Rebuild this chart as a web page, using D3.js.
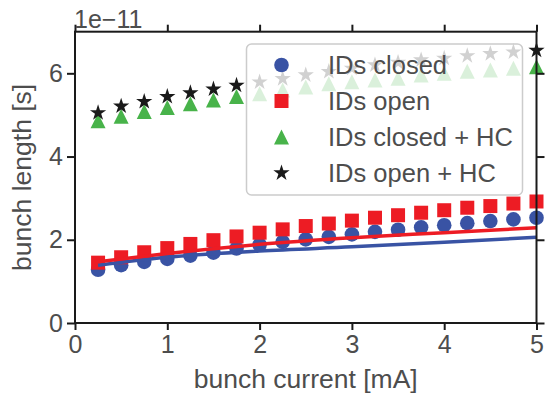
<!DOCTYPE html>
<html><head><meta charset="utf-8">
<script src="https://cdn.jsdelivr.net/npm/d3@7"></script>
<style>
html,body{margin:0;padding:0;background:#fff;}
text{font-family:"Liberation Sans",Arial,Helvetica,sans-serif;}
</style></head>
<body><svg id="chart" width="545" height="394"></svg>
<script>
// ---- data (values in units of 1e-11 s) ----
const current = [0.25,0.5,0.75,1.0,1.25,1.5,1.75,2.0,2.25,2.5,2.75,3.0,3.25,3.5,3.75,4.0,4.25,4.5,4.75,5.0];
const idsClosed = [1.28,1.39,1.47,1.54,1.62,1.69,1.79,1.88,1.95,2.01,2.07,2.13,2.19,2.24,2.30,2.35,2.40,2.45,2.49,2.53];
const idsOpen = [1.45,1.58,1.70,1.80,1.90,1.99,2.08,2.17,2.25,2.33,2.39,2.46,2.53,2.59,2.65,2.71,2.77,2.81,2.87,2.92];
const idsClosedHC = [4.86,4.97,5.08,5.18,5.27,5.36,5.44,5.51,5.60,5.67,5.75,5.80,5.84,5.88,5.96,6.00,6.05,6.08,6.12,6.16];
const idsOpenHC = [5.05,5.21,5.32,5.44,5.53,5.62,5.71,5.79,5.87,5.96,6.04,6.12,6.20,6.26,6.32,6.36,6.42,6.47,6.51,6.55];
const fitX = [0.25,1,2,3,4,5];
const fitClosed = [1.39,1.58,1.73,1.83,1.94,2.06];
const fitOpen = [1.47,1.67,1.89,2.05,2.17,2.29];
const xTicks = [0,1,2,3,4,5];
const yTicks = [0,2,4,6];
const legendLabels = ["IDs closed","IDs open","IDs closed + HC","IDs open + HC"];
const offsetLabel = "1e\u221211";
const xLabel = "bunch current [mA]";
const yLabel = "bunch length [s]";

const colors = {blue:"#3953a4", red:"#ed1c24", green:"#48b34a", black:"#1a1a1a"};
const textColor = "#4d4d4d";
const frameColor = "#1a1a1a";

const svg = d3.select("#chart");
const L = 75, R = 536.5, T = 31.7, B = 323;
const x = d3.scaleLinear().domain([0,5]).range([L,R]);
const y = d3.scaleLinear().domain([0,7]).range([B,T]);

// marker shape generators
function trianglePath(s){ const h=s/2; return `M0,${-h}L${h},${h}L${-h},${h}Z`; }
function squarePath(s){ const h=s/2; return `M${-h},${-h}H${h}V${h}H${-h}Z`; }
const starPath = d3.symbol(d3.symbolStar, 82)();
const circlePath = d3.symbol(d3.symbolCircle, Math.PI*7.3*7.3)();

const series = [
  {vals: idsClosed, path: circlePath, color: colors.blue},
  {vals: idsOpen, path: squarePath(14), color: colors.red},
  {vals: idsClosedHC, path: trianglePath(15), color: colors.green},
  {vals: idsOpenHC, path: starPath, color: colors.black}
];

const plot = svg.append("g");
series.forEach(s => {
  plot.append("g").selectAll("path").data(current).join("path")
    .attr("d", s.path)
    .attr("transform", (d,i) => `translate(${x(d)},${y(s.vals[i])})`)
    .attr("fill", s.color);
});

const line = d3.line().x(d => x(d[0])).y(d => y(d[1])).curve(d3.curveMonotoneX);
plot.append("path").datum(fitX.map((v,i)=>[v,fitClosed[i]]))
  .attr("d", line).attr("fill","none").attr("stroke",colors.blue).attr("stroke-width",3.5);
plot.append("path").datum(fitX.map((v,i)=>[v,fitOpen[i]]))
  .attr("d", line).attr("fill","none").attr("stroke",colors.red).attr("stroke-width",3.5);

// axes
function styleAxis(g){
  g.select(".domain").remove();
  g.selectAll(".tick line").attr("stroke",frameColor).attr("stroke-width",2);
  g.selectAll(".tick text").attr("fill",textColor).style("font-size","25px");
}
svg.append("g").attr("transform",`translate(0,${B})`)
  .call(d3.axisBottom(x).tickValues(xTicks).tickFormat(d3.format("d")).tickSize(7).tickPadding(5))
  .call(styleAxis);
svg.append("g").attr("transform",`translate(0,${T})`)
  .call(d3.axisTop(x).tickValues(xTicks).tickFormat("").tickSize(7))
  .call(styleAxis);
svg.append("g").attr("transform",`translate(${L},0)`)
  .call(d3.axisLeft(y).tickValues(yTicks).tickFormat(d3.format("d")).tickSize(8).tickPadding(4))
  .call(styleAxis);
svg.append("g").attr("transform",`translate(${R},0)`)
  .call(d3.axisRight(y).tickValues(yTicks).tickFormat("").tickSize(8))
  .call(styleAxis);

// frame
svg.append("rect").attr("x",L).attr("y",T).attr("width",R-L).attr("height",B-T)
  .attr("fill","none").attr("stroke",frameColor).attr("stroke-width",2);

// labels
svg.append("text").attr("x",L-1).attr("y",28).text(offsetLabel)
  .attr("fill",textColor).style("font-size","25px");
svg.append("text").attr("x",(L+R)/2).attr("y",388).attr("text-anchor","middle")
  .text(xLabel).attr("fill",textColor).style("font-size","26.5px");
svg.append("text").attr("transform",`translate(31,${(T+B)/2}) rotate(-90)`)
  .attr("text-anchor","middle").text(yLabel).attr("fill",textColor).style("font-size","26.5px");

// legend
const lg = svg.append("g");
lg.append("rect").attr("x",246.5).attr("y",44).attr("width",276).attr("height",151)
  .attr("rx",5).attr("fill","#fff").attr("fill-opacity",0.8)
  .attr("stroke","#cccccc").attr("stroke-width",1.5);
legendLabels.forEach((lab,i) => {
  const cy = 65 + i*36;
  lg.append("path").attr("d", series[i].path).attr("transform",`translate(281.5,${cy})`)
    .attr("fill", series[i].color);
  lg.append("text").attr("x",328).attr("y",cy).attr("dy","0.35em").text(lab)
    .attr("fill",textColor).style("font-size","25.5px");
});
</script>
</body></html>
